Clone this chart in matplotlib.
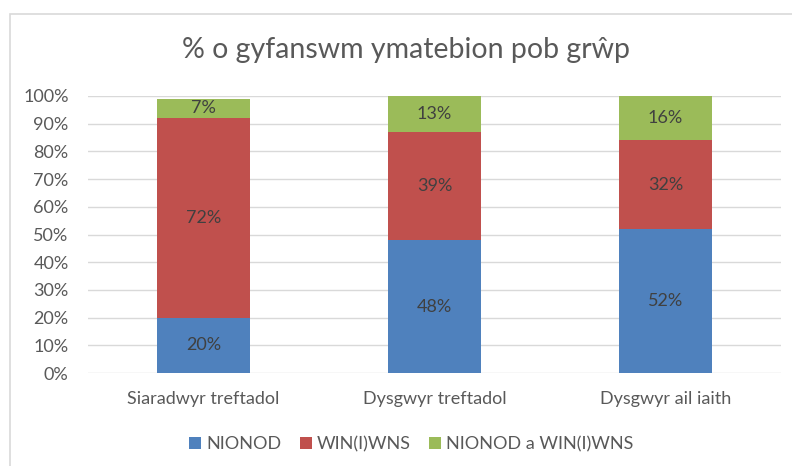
import matplotlib
matplotlib.use("Agg")
import matplotlib.pyplot as plt
from matplotlib.patches import Rectangle
import numpy as np

categories = ["Siaradwyr treftadol", "Dysgwyr treftadol", "Dysgwyr ail iaith"]
series_names = ["NIONOD", "WIN(I)WNS", "NIONOD a WIN(I)WNS"]
nionod = [20, 48, 52]
winwns = [72, 39, 32]
both = [7, 13, 16]
colors = ["#4F81BD", "#C0504D", "#9BBB59"]
yticks = [0, 10, 20, 30, 40, 50, 60, 70, 80, 90, 100]

plt.rcParams['font.family'] = ['Lato', 'DejaVu Sans']
txt = "#595959"

fig = plt.figure(figsize=(7.92, 4.66), dpi=100)
W, H = 792, 466
# chart frame
fig.patches.append(Rectangle((10 / W, -0.1), 1.0, (H - 14) / H + 0.1,
                             transform=fig.transFigure, fill=False,
                             edgecolor="#D9D9D9", linewidth=1.2))

ax = fig.add_axes([88 / W, 1 - 373 / H, (781 - 88) / W, (373 - 96) / H])
x = np.arange(len(categories))
bottom = np.zeros(len(categories))
for vals, name, c in zip([nionod, winwns, both], series_names, colors):
    vals = np.array(vals, dtype=float)
    ax.bar(x, vals, width=0.4, bottom=bottom, color=c, label=name, zorder=3)
    for xi, b, v in zip(x, bottom, vals):
        ax.text(xi, b + v / 2, f"{int(v)}%", ha="center", va="center",
                fontsize=13, color="#404040", zorder=4)
    bottom += vals

ax.set_xlim(-0.5, 2.5)
ax.set_ylim(0, 100)
ax.set_yticks(yticks)
ax.set_yticklabels([f"{t}%" for t in yticks], fontsize=13, color=txt)
ax.set_xticks(x)
ax.set_xticklabels(categories, fontsize=13, color=txt)
ax.tick_params(axis="both", length=0)
ax.tick_params(axis="x", pad=13)
ax.tick_params(axis="y", pad=14)
ax.grid(axis="y", color="#D9D9D9", linewidth=1, zorder=0)
for s in ax.spines.values():
    s.set_visible(False)

fig.text(0.512, 1 - 50 / H, "% o gyfanswm ymatebion pob grŵp", ha="center",
         va="center", fontsize=20.5, color=txt)

handles, labels = ax.get_legend_handles_labels()
fig.legend(handles, labels, loc="center", bbox_to_anchor=(411.5 / W, 1 - 444 / H),
           ncol=3, frameon=False, fontsize=13, labelcolor=txt,
           handlelength=0.65, handleheight=0.65, handletextpad=0.3,
           columnspacing=1.0)

fig.savefig("out.png", dpi=100)
